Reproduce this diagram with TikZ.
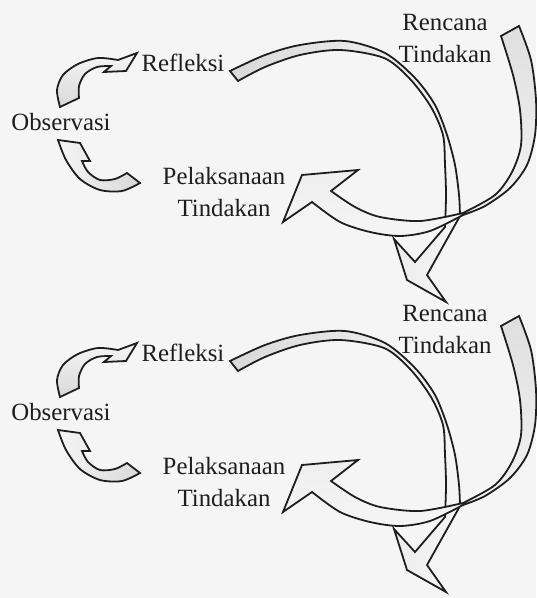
\documentclass[tikz,border=0pt]{standalone}
\usepackage{fontspec}
\setmainfont{Liberation Serif}
\definecolor{paper}{RGB}{245,245,245}
\definecolor{ink}{RGB}{30,30,30}
\begin{document}
\begin{tikzpicture}[x=0.5pt,y=-0.5pt,
  lbl/.style={text=ink,font=\fontsize{12.4}{16}\selectfont,align=center,inner sep=0pt},
  band/.style={draw=ink,line width=0.9pt,line join=miter}]
\fill[paper] (0,0) rectangle (536,598);
\useasboundingbox (0,0) rectangle (536,598);
\foreach \i/\dy in {1/0,2/290}{
\begin{scope}[shift={(0,\dy)}]
\path[band,bottom color=gray!30,middle color=paper,top color=paper]
  plot[smooth] coordinates {(60,107) (57,90) (63,75) (78,64) (98,58) (118,60)}
  -- (137,53) -- (126,71) -- (104,72) -- (111,66)
  -- plot[smooth] coordinates {(111,66) (97,67) (85,74) (79,86) (79,98)} -- cycle;
\path[band,right color=gray!30,middle color=paper,left color=paper]
  (58,140) -- (80,143) -- (90,161) -- (82,161)
  -- plot[smooth] coordinates {(82,161) (88,172) (100,180) (115,179) (127,173)}
  -- (140,183)
  -- plot[smooth] coordinates {(140,183) (122,191) (100,190) (80,179) (66,160) (58,140)} -- cycle;
\path[band,left color=gray!30,middle color=paper,right color=paper]
  plot[smooth] coordinates {(230,71) (265,55) (300,45) (345,41) (385,53) (415,78) (435,105) (447,135) (455,165) (459,195) (460,216)}
  -- (427,275) -- (446,302) -- (407,280) -- (394,239) -- (415,262) -- (445,227)
  -- plot[smooth] coordinates {(445,227) (446,195) (445,165) (443,135) (431,107) (410,79) (384,58) (340,50) (300,55) (265,67) (238,81)} -- cycle;
\path[band,top color=gray!25,middle color=paper,bottom color=paper]
  plot[smooth] coordinates {(519,26) (531,60) (536,100) (535,135) (527,165) (510,188) (485,206) (463,215)}
  -- plot[smooth] coordinates {(463,215) (430,231) (400,236) (370,232) (340,222) (312,202)}
  -- (283,222) -- (302,175) -- (358,170) -- (331,191)
  -- plot[smooth] coordinates {(331,191) (355,207) (380,217) (420,221) (463,213)}
  -- plot[smooth] coordinates {(463,213) (495,195) (512,172) (521,145) (520,110) (513,75) (501,36)} -- cycle;
\node[lbl] (ren\i) at (445,39) {Rencana\\Tindakan};
\node[lbl] (ref\i) at (183,63) {Refleksi};
\node[lbl] (obs\i) at (61,122) {Observasi};
\node[lbl] (pel\i) at (224,192) {Pelaksanaan\\Tindakan};
\end{scope}
}
\end{tikzpicture}
\end{document}
